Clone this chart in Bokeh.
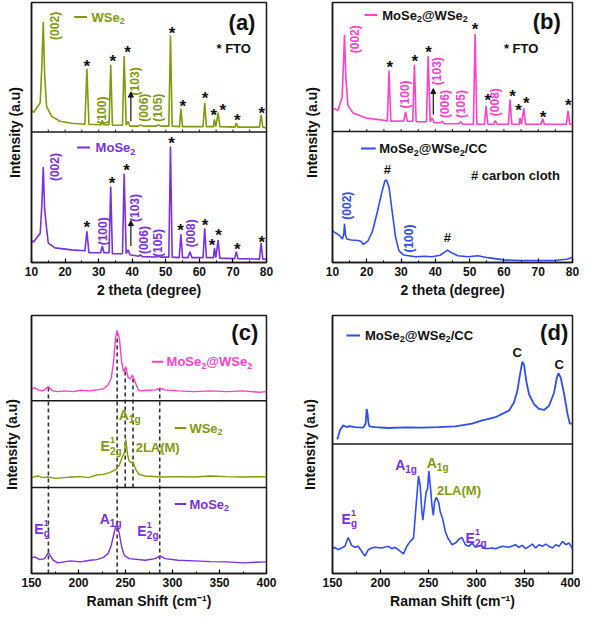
import numpy as np
from bokeh.plotting import figure
from bokeh.layouts import gridplot
from bokeh.models import Range1d, SingleIntervalTicker, FixedTicker, Span, Arrow, NormalHead
from bokeh.core.properties import value
from bokeh.embed import file_html
from bokeh.resources import INLINE

FONT = "Liberation Sans"
OLIVE = "#809b0c"
PURPLE = "#7b30dd"
PINK = "#ff40c8"
BLUE = "#2f4df0"
INK = "#111111"

# ---------------- data (x, intensity a.u.) ----------------
# (a) XRD WSe2 on FTO
wse2_xrd = [(10.0, 23), (10.6, 20), (12.6, 30), (13.1, 70), (13.5, 113), (13.9, 60), (14.5, 26),
            (16.0, 16), (18.5, 11), (22.0, 9), (25.9, 8), (26.5, 65), (27.1, 8), (30.7, 7.5),
            (31.1, 12), (31.5, 7.5), (33.1, 7.5), (33.6, 69), (34.1, 7), (37.1, 7), (37.6, 78),
            (38.2, 7), (38.8, 11), (39.3, 6), (41.8, 6), (42.5, 7.3), (43.2, 6), (47.0, 6),
            (47.8, 7.3), (48.5, 6), (50.9, 6), (51.4, 99), (51.9, 6), (54.1, 5.5), (54.5, 24),
            (55.0, 5.5), (61.1, 5.5), (61.6, 30), (62.1, 5.5), (64.2, 5.5), (64.5, 13), (64.9, 5.5),
            (65.6, 20), (66.1, 5.5), (70.6, 5), (71.0, 9.3), (71.5, 5), (77.9, 5), (78.4, 17.7),
            (78.9, 5), (80.0, 4)]
# (a) XRD MoSe2 on FTO
mose2_xrd = [(10.0, 23), (10.6, 21), (12.6, 30), (13.1, 60), (13.5, 98), (13.9, 55), (14.5, 35),
             (15.0, 20), (17.0, 15), (22.0, 13), (25.9, 12), (26.5, 32), (27.1, 10), (30.6, 10),
             (31.1, 17), (31.6, 10), (33.1, 10), (33.6, 78), (34.1, 9), (37.1, 9), (37.6, 91),
             (38.2, 9), (38.8, 13), (39.3, 8), (42.0, 6.5), (42.5, 7.7), (43.0, 6), (47.2, 5.7),
             (47.8, 6.7), (48.4, 5.5), (50.9, 5.5), (51.4, 119), (51.9, 5.5), (54.0, 5), (54.5, 29),
             (55.0, 5), (56.6, 5), (57.2, 11), (57.8, 5), (61.1, 5), (61.6, 35), (62.1, 5), (64.2, 5),
             (64.5, 15), (64.9, 5), (65.6, 23), (66.1, 4.5), (70.5, 4), (71.0, 11), (71.5, 4),
             (77.9, 3.5), (78.4, 20), (78.9, 3.5), (80.0, 3.3)]
# (b) XRD MoSe2@WSe2 on FTO
het_xrd = [(10.0, 24), (11.6, 22), (12.8, 35), (13.2, 70), (13.5, 100), (13.9, 55), (14.5, 27),
           (16.0, 19), (19.8, 14), (24.6, 11.7), (26.0, 11), (26.5, 63), (27.0, 10.6), (30.8, 11),
           (31.3, 20.6), (31.8, 10.6), (33.4, 10.6), (33.9, 69), (34.4, 10), (37.4, 10), (37.9, 78),
           (38.5, 10), (39.1, 14), (39.6, 9), (41.5, 9), (42.0, 10.6), (42.6, 8), (46.8, 8),
           (47.4, 10), (48.0, 7.5), (51.1, 7.5), (51.6, 101), (52.1, 7.5), (54.3, 7.5), (54.8, 26.6),
           (55.3, 7.5), (57.0, 7.5), (57.5, 11.3), (58.0, 7.5), (61.3, 7.5), (61.8, 33), (62.3, 7.5),
           (64.4, 7.5), (64.7, 14), (65.1, 7.5), (65.8, 24), (66.3, 7.5), (70.8, 7.5), (71.3, 13.3),
           (71.8, 7.5), (78.2, 7.5), (78.7, 21.3), (79.2, 7.5), (80.0, 8)]
# (b) XRD MoSe2@WSe2 on carbon cloth
hetcc_xrd = [(10.0, 32.7), (12.1, 27.7), (12.9, 24.3), (13.3, 30), (13.5, 40), (13.8, 28), (14.2, 24.3),
             (15.5, 23.3), (17.4, 22.7), (18.3, 22), (19.0, 18.7), (20.3, 22), (21.7, 32.7),
             (23.1, 52.7), (24.4, 72.7), (25.3, 84.4), (25.7, 85.4), (26.5, 77.7), (27.4, 52.7),
             (28.4, 26), (29.4, 12), (30.8, 7.7), (34.2, 6), (37.0, 6.5), (39.0, 6), (41.4, 7.5),
             (42.8, 11), (43.6, 12.7), (44.7, 10), (46.6, 7), (49.5, 6), (52.4, 7), (55.3, 5),
             (60.0, 2.7), (64.8, 2), (74.4, 2), (78.3, 3.3), (79.7, 5), (80.0, 5)]
# (c) Raman spectra
het_raman = [(150.0, 12), (153.5, 13.3), (156.9, 11), (162.1, 10), (168.0, 14.3), (172.5, 10),
             (177.7, 9.3), (184.6, 10), (195.0, 9.3), (201.9, 10.7), (212.3, 10), (219.3, 11),
             (226.2, 12), (231.4, 16), (234.8, 22.7), (237.3, 39.3), (239.3, 62.7), (241.1, 71),
             (243.5, 62.7), (245.9, 39.3), (248.0, 29.3), (250.4, 34.3), (252.5, 24.3), (254.9, 22),
             (257.3, 26), (258.7, 22.7), (260.8, 17.7), (263.6, 11), (266.0, 10), (274.7, 10.7),
             (281.6, 11), (286.8, 12.7), (292.0, 11), (305.8, 10), (323.1, 9.3), (340.4, 10),
             (357.8, 9.3), (375.1, 10), (392.4, 8.7), (400.0, 9.3)]
wse2_raman = [(150.0, 10), (156.9, 11.7), (162.1, 10), (167.3, 10.7), (176.0, 9.3), (184.6, 10),
              (193.3, 10.7), (201.9, 11), (210.6, 10), (219.3, 12.7), (226.2, 13.3), (233.1, 15),
              (240.0, 18.3), (243.5, 22.7), (246.3, 30), (248.7, 35), (250.4, 48.3), (252.1, 33.3),
              (253.9, 26.7), (256.3, 25), (258.0, 26), (260.8, 18.3), (264.3, 13.3), (271.2, 11.7),
              (288.5, 10.7), (305.8, 11), (323.1, 10.7), (340.4, 11.7), (357.8, 11), (375.1, 10.7),
              (392.4, 11), (400.0, 10.7)]
mose2_raman = [(150.0, 15.7), (153.5, 16.7), (158.7, 14), (163.9, 15), (168.0, 21), (172.5, 14),
               (177.7, 10.7), (184.6, 11.7), (191.6, 12.7), (201.9, 11.7), (212.3, 13.3), (219.3, 14),
               (226.2, 16), (231.4, 20), (234.8, 28.3), (237.3, 38.3), (239.3, 46.7), (241.1, 49.3),
               (243.5, 40), (245.9, 26.7), (248.7, 18.3), (253.9, 15), (271.2, 13.3), (281.6, 15),
               (286.8, 17.7), (292.0, 15), (305.8, 13.3), (323.1, 12.7), (340.4, 12), (357.8, 11.7),
               (375.1, 10.7), (388.9, 11.3), (400.0, 11.7)]
# (d) Raman MoSe2@WSe2/CC : upper (carbon) and lower (zoomed) traces
hetcc_raman_top = [(154.9, 4.7), (155.9, 7.3), (157.7, 14), (161.2, 19), (164.6, 17.3), (168.1, 18.3),
                   (173.4, 17.3), (182.1, 16.7), (184.5, 20.7), (185.6, 35.7), (186.6, 30.7),
                   (187.3, 22.3), (188.4, 18), (194.3, 17.3), (208.2, 16.3), (225.7, 17), (243.1, 16.7),
                   (260.5, 17.3), (278.0, 18), (295.4, 20.7), (305.9, 24), (312.8, 25.7), (319.8, 27.3),
                   (326.8, 30.7), (333.8, 34), (339.0, 42.3), (342.5, 54), (345.3, 70.7), (347.7, 84),
                   (349.5, 80.7), (351.9, 64), (354.7, 50.7), (359.9, 40.7), (365.1, 35.7), (370.4, 34.7),
                   (375.6, 39), (380.8, 52.3), (383.6, 67.3), (385.4, 72.3), (387.8, 67.3), (391.3, 50.7),
                   (394.8, 30.7), (397.2, 20.7), (400.0, 20.7)]
hetcc_raman_low = [(150.0, 25.3), (152.4, 26.7), (155.9, 24.3), (159.4, 26), (162.9, 27.7), (166.4, 36.7),
                   (169.9, 28.7), (173.4, 26.7), (176.8, 27.7), (180.3, 22.7), (183.8, 17.7), (187.3, 24.3),
                   (190.8, 26), (194.3, 26.7), (201.3, 26), (208.2, 27.7), (211.7, 25.3), (215.2, 26.7),
                   (218.7, 24), (223.9, 20), (227.4, 27.7), (230.9, 32.7), (234.4, 36), (236.8, 66),
                   (239.6, 99.3), (241.4, 89.3), (243.1, 62.7), (244.1, 54.3), (245.9, 69.3), (247.6, 83.3),
                   (249.0, 86), (250.4, 104.3), (252.2, 86), (253.6, 69.3), (255.0, 59.3), (256.3, 72.7),
                   (258.1, 77.7), (260.5, 72.7), (262.3, 62.7), (264.7, 56), (267.5, 42.7), (270.3, 36),
                   (274.5, 29.3), (278.0, 31), (282.1, 35.3), (284.9, 36.7), (288.4, 29.3), (291.9, 27.7),
                   (295.4, 31), (298.9, 26.7), (304.1, 28.7), (309.3, 25.3), (316.3, 26), (319.8, 25.3),
                   (326.8, 27.7), (333.8, 26.7), (340.7, 29.3), (344.2, 26.7), (347.7, 28.7), (351.2, 25.3),
                   (354.7, 27.7), (358.2, 30), (361.6, 26), (365.1, 29.3), (368.6, 27.7), (372.1, 30),
                   (375.6, 27.7), (379.1, 26), (382.6, 29.3), (386.1, 27.7), (389.5, 32.7), (393.0, 29.3),
                   (396.5, 31), (400.0, 25.3)]

raman_mose2_modes = [168.0, 241.1, 286.4]
raman_wse2_modes = [249.7, 258.0]

# hkl labels and FTO star positions (annotation anchors)
a_top_hkl = [("(002)", 16.9, 243), ("(100)", 30.9, 156), ("(103)", 40.7, 186), ("(006)", 43.6, 159), ("(105)", 47.7, 159)]
a_top_stars = [(26.5, 205), (34.2, 210.7), (38.6, 219.3), (51.9, 239.3), (55.1, 164), (61.7, 172.7),
               (64.3, 155), (67.0, 160), (71.3, 150), (78.6, 157.3)]
a_bot_hkl = [("(002)", 16.9, 98), ("(100)", 31.2, 32), ("(103)", 40.7, 56), ("(006)", 43.6, 23),
             ("(105)", 47.7, 20), ("(008)", 57.5, 30)]
a_bot_stars = [(26.5, 40), (34.0, 85), (38.3, 98.3), (51.7, 126.7), (54.4, 36.7), (61.7, 42.3),
               (63.8, 21.7), (65.7, 31.7), (71.3, 17.3), (78.6, 25)]
b_top_hkl = [("(002)", 16.7, 230.7), ("(100)", 31.1, 173.7), ("(103)", 40.6, 197.7), ("(006)", 42.9, 163.7),
             ("(105)", 47.5, 163.7), ("(008)", 57.3, 165.7)]
b_top_stars = [(26.7, 206), (34.0, 211.7), (38.0, 221), (51.6, 245.3), (55.3, 171.7), (62.5, 176),
               (64.3, 161), (66.5, 168.3), (71.4, 154.3), (78.8, 166)]
b_bot_hkl = [("(002)", 14.2, 58.7), ("(100)", 32.4, 24.7)]
b_bot_hash = [(26.0, 95.7), (43.5, 25.7)]

# Arial/Liberation Sans Bold advance widths (per 1000 em) for composed labels
ADV = {"M": 833, "o": 611, "S": 667, "e": 556, "W": 944, "@": 975, "/": 278, "C": 722, "2": 556}


def xy(pairs, off=0.0):
    return [p[0] for p in pairs], [p[1] + off for p in pairs]


def base_fig(xr, yr, w, h, bl, br, bt, bb, xlabel, interval, ystand):
    p = figure(width=w, height=h, x_range=Range1d(*xr), y_range=Range1d(*yr),
               output_backend="svg", toolbar_location=None,
               min_border_left=bl, min_border_right=br, min_border_top=bt, min_border_bottom=bb)
    p.xgrid.visible = False
    p.ygrid.visible = False
    p.outline_line_color = "#1a1a1a"
    p.outline_line_width = 1.5
    xa = p.xaxis[0]
    xa.ticker = SingleIntervalTicker(interval=interval, num_minor_ticks=2)
    xa.major_tick_in = 4
    xa.major_tick_out = 0
    xa.minor_tick_in = 2
    xa.minor_tick_out = 0
    xa.axis_line_width = 1.5
    xa.axis_line_color = "#1a1a1a"
    xa.major_tick_line_width = 1.2
    xa.minor_tick_line_width = 1
    xa.major_label_text_font = FONT
    xa.major_label_text_font_style = "bold"
    xa.major_label_text_font_size = "12px"
    xa.major_label_text_color = INK
    xa.major_label_standoff = 4
    xa.axis_label = xlabel
    xa.axis_label_text_font = FONT
    xa.axis_label_text_font_style = "bold"
    xa.axis_label_text_font_size = "14px"
    xa.axis_label_text_color = INK
    xa.axis_label_standoff = 3
    ya = p.yaxis[0]
    ya.ticker = FixedTicker(ticks=[])
    ya.major_tick_in = 0
    ya.major_tick_out = 0
    ya.minor_tick_in = 0
    ya.minor_tick_out = 0
    ya.major_label_standoff = 0
    ya.axis_line_width = 1.5
    ya.axis_line_color = "#1a1a1a"
    ya.axis_label = "Intensity (a.u)"
    ya.axis_label_text_font = FONT
    ya.axis_label_text_font_style = "bold"
    ya.axis_label_text_font_size = "14px"
    ya.axis_label_text_color = INK
    ya.axis_label_standoff = ystand
    return p


def txt(p, x, y, s, color=INK, size=12, align="left", baseline="middle", angle=0.0, xo=0, yo=0):
    p.text(x=[x], y=[y], text=[s], text_color=color, text_font=value(FONT), text_font_size=f"{size}px",
           text_font_style="bold", text_align=align, text_baseline=baseline, angle=angle,
           x_offset=xo, y_offset=yo)


def formula(p, x, y, s, color, size=13):
    """Draw a chemical formula where the digit 2 is a subscript."""
    xo = 0.0
    for ch in s:
        if ch == "2":
            txt(p, x, y, "2", color=color, size=round(size * 0.7), xo=xo, yo=4)
            xo += ADV["2"] / 1000 * size * 0.7
        else:
            txt(p, x, y, ch, color=color, size=size, xo=xo)
            xo += ADV.get(ch, 600) / 1000 * size


def legend_entry(p, x0, x1, y, label, lcolor, tcolor, tx):
    p.line([x0, x1], [y, y], line_color=lcolor, line_width=2)
    formula(p, tx, y, label, tcolor)


def hkl(p, items, color):
    for s, x, y in items:
        txt(p, x, y, s, color=color, size=12, align="center", angle=np.pi / 2)


def stars(p, items):
    for x, y in items:
        txt(p, x, y, "*", size=17, align="center", yo=4)


def separator(p, y, ticks=None):
    p.add_layout(Span(location=y, dimension="width", line_color="#1a1a1a", line_width=1.5))
    if ticks is not None:
        p.segment(x0=ticks, y0=[y] * len(ticks), x1=ticks, y1=[y + 2.5] * len(ticks),
                  line_color="#1a1a1a", line_width=1)


def phonon(p, x, y, main, sup, sub, color):
    w = 10 if main == "A" else 9.5
    txt(p, x, y, main, color=color, size=14)
    if sup:
        txt(p, x, y, sup, color=color, size=9, xo=w, yo=-6)
    if sub:
        txt(p, x, y, sub, color=color, size=10, xo=w, yo=5)


def arrow(p, x, y0, y1):
    p.add_layout(Arrow(end=NormalHead(size=5, fill_color=INK, line_color=INK),
                       x_start=x, y_start=y0, x_end=x, y_end=y1, line_width=1.2, line_color=INK))


# ---------------- panel (a) ----------------
A_SEP = 134
pa = base_fig((10, 80), (0, 267), 290, 308, 25, 24, 2, 46, "2 theta (degree)", 10, 9)
separator(pa, A_SEP, list(range(15, 80, 5)))
x, y = xy(wse2_xrd, A_SEP)
pa.line(x, y, line_color=OLIVE, line_width=1.6)
x, y = xy(mose2_xrd)
pa.line(x, y, line_color=PURPLE, line_width=1.6)
legend_entry(pa, 22.7, 26.5, 252, "WSe2", OLIVE, OLIVE, 27.9)
legend_entry(pa, 23.6, 27.4, 118, "MoSe2", PURPLE, PURPLE, 29.1)
txt(pa, 72.7, 246, "(a)", size=22, align="center")
txt(pa, 65.1, 220, "* FTO", size=13)
hkl(pa, a_top_hkl, OLIVE)
hkl(pa, a_bot_hkl, PURPLE)
stars(pa, a_top_stars)
stars(pa, a_bot_stars)
arrow(pa, 39.6, 145, 175)
arrow(pa, 39.6, 17, 43)

# ---------------- panel (b) ----------------
B_SEP = 135.4
pb = base_fig((10, 80), (0, 268.7), 290, 308, 41, 8, 2, 46, "2 theta (degree)", 10, 13)
separator(pb, B_SEP, list(range(15, 80, 5)))
x, y = xy(het_xrd, B_SEP)
pb.line(x, y, line_color=PINK, line_width=1.6)
x, y = xy(hetcc_xrd)
pb.line(x, y, line_color=BLUE, line_width=1.6)
legend_entry(pb, 19.4, 23.1, 255.7, "MoSe2@WSe2", PINK, INK, 24.5)
legend_entry(pb, 18.3, 22.6, 117.7, "MoSe2@WSe2/CC", BLUE, INK, 23.6)
txt(pb, 72.5, 249, "(b)", size=22, align="center")
txt(pb, 60.0, 220.7, "* FTO", size=13)
txt(pb, 50.4, 89.7, "# carbon cloth", size=13)
for hx_, hy_ in b_bot_hash:
    txt(pb, hx_, hy_, "#", size=13, align="center")
hkl(pb, b_top_hkl, PINK)
hkl(pb, b_bot_hkl, BLUE)
stars(pb, b_top_stars)
arrow(pb, 39.4, 152.7, 179.7)

# ---------------- panel (c) ----------------
C_SEP1, C_SEP2 = 86.6, 174.0
pc = base_fig((150, 400), (0, 260), 290, 303, 25, 24, 7, 38, "Raman Shift (cm⁻¹)", 50, 12)
separator(pc, C_SEP1)
separator(pc, C_SEP2)
hx, hy = xy(het_raman, C_SEP2)
wx, wy = xy(wse2_raman, C_SEP1)
mx, my = xy(mose2_raman)
for m in raman_mose2_modes:
    pc.segment(x0=[m], y0=[0], x1=[m], y1=[float(np.interp(m, hx, hy))],
               line_color="#333333", line_width=1.6, line_dash="4 3")
for m in raman_wse2_modes:
    pc.segment(x0=[m], y0=[C_SEP1], x1=[m], y1=[float(np.interp(m, hx, hy))],
               line_color="#333333", line_width=1.6, line_dash="4 3")
pc.line(hx, hy, line_color=PINK, line_width=1.4)
pc.line(wx, wy, line_color=OLIVE, line_width=1.4)
pc.line(mx, my, line_color=PURPLE, line_width=1.4)
legend_entry(pc, 278.2, 290.3, 213.3, "MoSe2@WSe2", PINK, PINK, 293.7)
legend_entry(pc, 302.4, 314.5, 146.6, "WSe2", OLIVE, OLIVE, 318)
legend_entry(pc, 302.4, 314.5, 70, "MoSe2", PURPLE, PURPLE, 318)
txt(pc, 376.9, 243.3, "(c)", size=22, align="center")
phonon(pc, 242.9, 160, "A", "", "1g", OLIVE)
phonon(pc, 223.4, 128.3, "E", "1", "2g", OLIVE)
txt(pc, 260.8, 126.7, "2LA(M)", color=OLIVE, size=13)
phonon(pc, 152.8, 45, "E", "1", "g", PURPLE)
phonon(pc, 222.7, 55, "A", "", "1g", PURPLE)
phonon(pc, 262.6, 43.3, "E", "1", "2g", PURPLE)

# ---------------- panel (d) ----------------
D_SEP = 132
pd = base_fig((150, 400), (0, 263), 290, 303, 42, 8, 7, 38, "Raman Shift (cm⁻¹)", 50, 15)
separator(pd, D_SEP)
x, y = xy(hetcc_raman_top, D_SEP)
pd.line(x, y, line_color=BLUE, line_width=1.8)
x, y = xy(hetcc_raman_low)
pd.line(x, y, line_color=BLUE, line_width=1.6)
legend_entry(pd, 164.6, 178.7, 242.7, "MoSe2@WSe2/CC", BLUE, INK, 183.9)
txt(pd, 380.9, 246, "(d)", size=22, align="center")
txt(pd, 342.5, 225.3, "C", size=13, align="center")
txt(pd, 386.1, 212.7, "C", size=13, align="center")
phonon(pd, 215.3, 111, "A", "", "1g", PURPLE)
phonon(pd, 248.3, 112.7, "A", "", "1g", OLIVE)
txt(pd, 258.8, 84.3, "2LA(M)", color=OLIVE, size=13)
phonon(pd, 159.4, 56, "E", "1", "g", PURPLE)
phonon(pd, 288.5, 36, "E", "1", "2g", PURPLE)

grid = gridplot([[pa, pb], [pc, pd]], toolbar_location=None)
open("out.html", "w").write(file_html(grid, INLINE))
